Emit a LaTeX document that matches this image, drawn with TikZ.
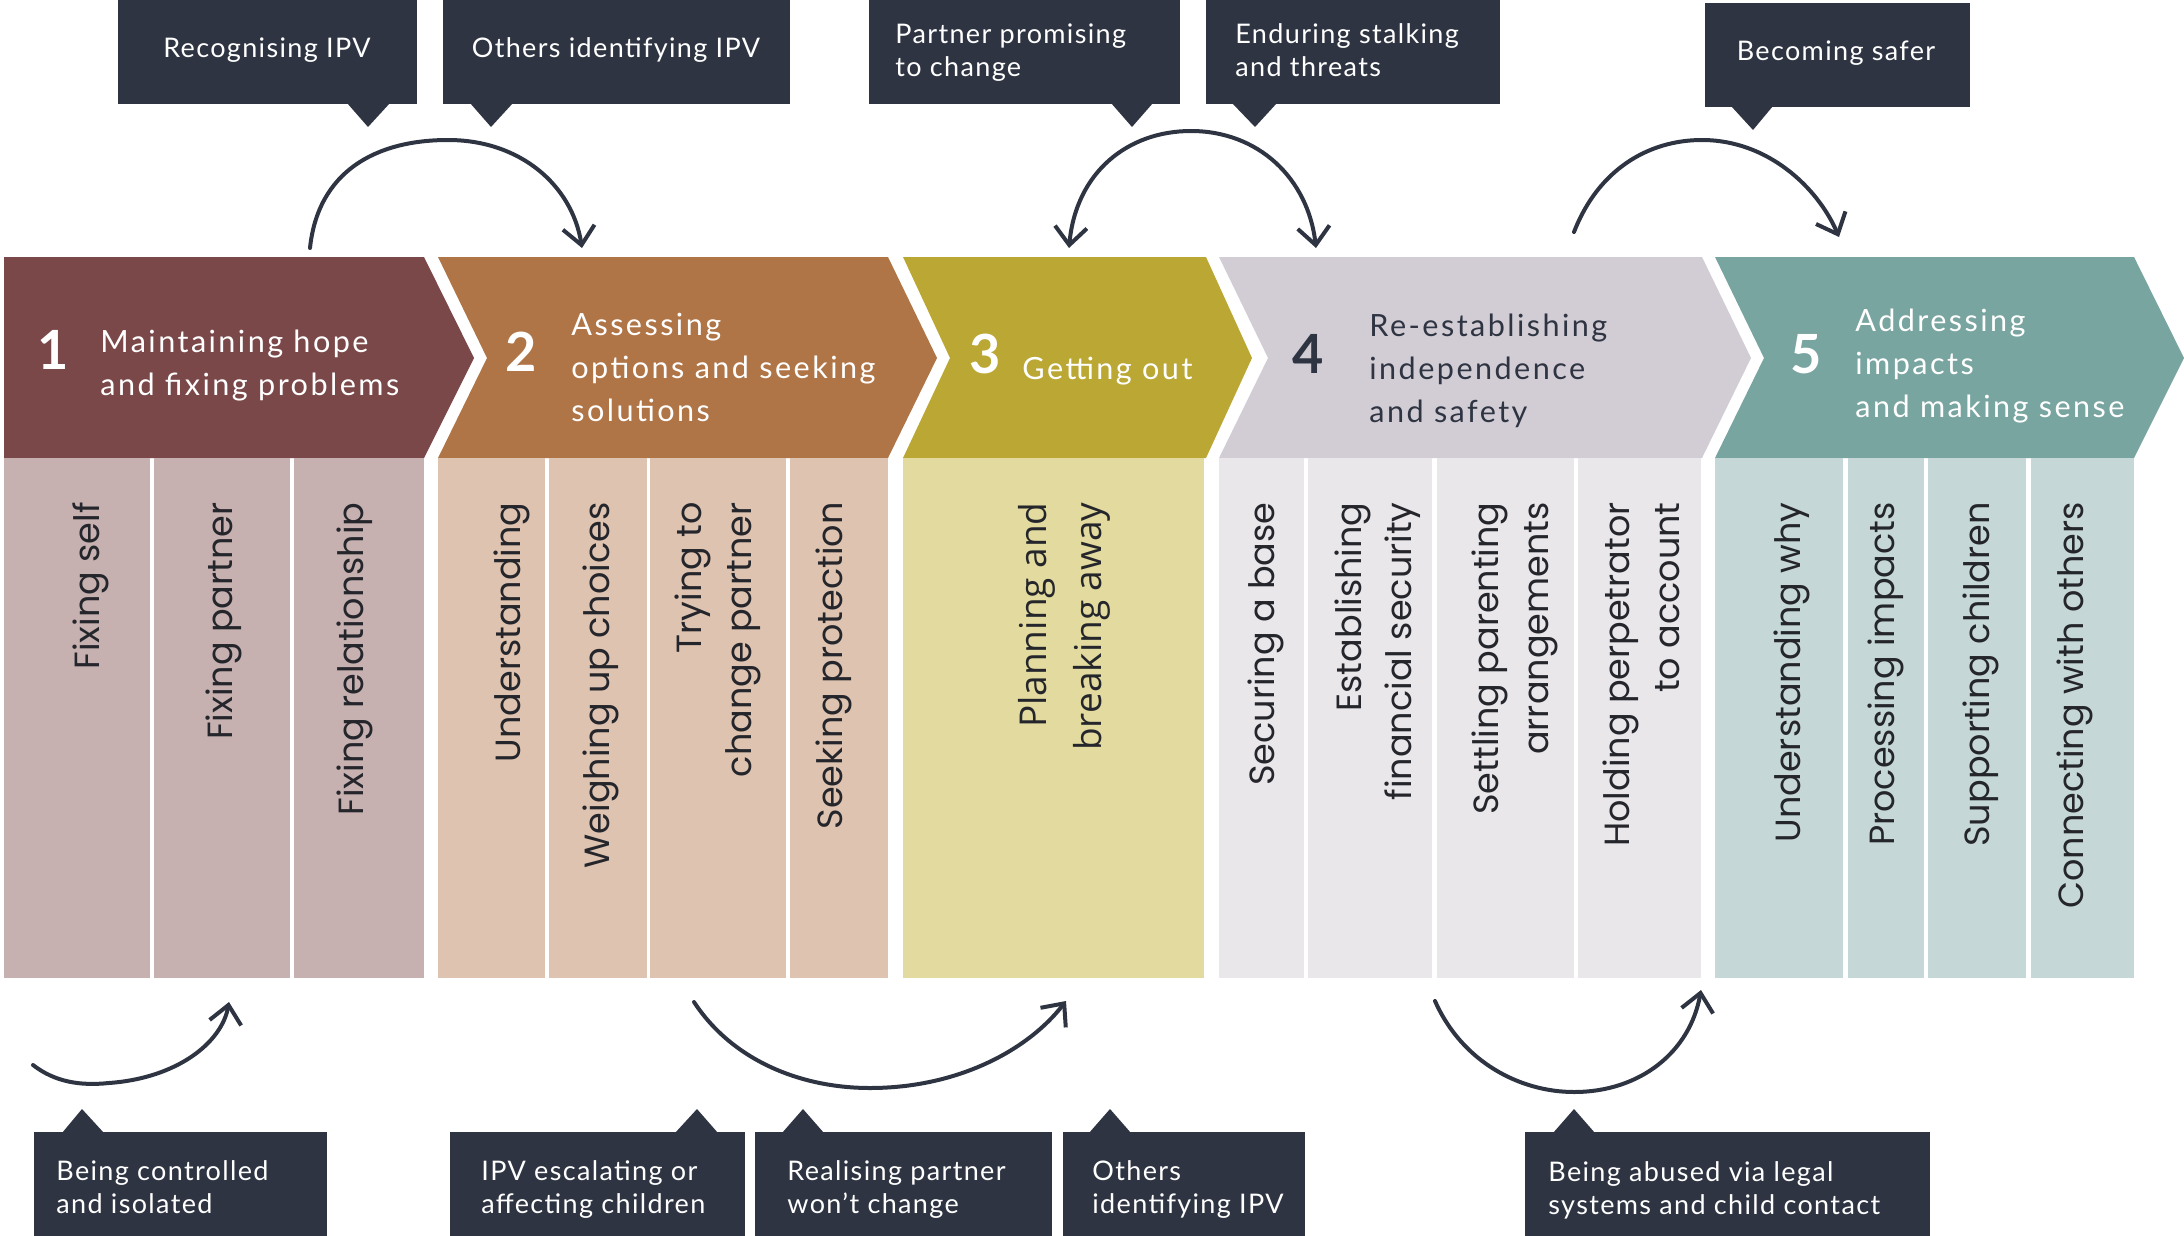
\documentclass[tikz,border=0pt]{standalone}
\usepackage{fontspec}
\setmainfont{Lato}
\newfontfamily\hdrfont[LetterSpace=8]{Lato}
\newfontfamily\calfont[LetterSpace=5]{Lato}
\newfontfamily\colfont{Poppins}
\newfontfamily\colfontb{Open Sans}
\usetikzlibrary{arrows.meta}
\definecolor{navy}{HTML}{2E3442}
\definecolor{cA}{HTML}{7B4849}\definecolor{lA}{HTML}{C6B0B0}
\definecolor{cB}{HTML}{B07547}\definecolor{lB}{HTML}{DEC3B0}
\definecolor{cC}{HTML}{BBA733}\definecolor{lC}{HTML}{E2DA9E}
\definecolor{cD}{HTML}{D2CDD5}\definecolor{lD}{HTML}{E9E7EA}
\definecolor{cE}{HTML}{79A5A1}\definecolor{lE}{HTML}{C5D8D7}
\definecolor{coltxt}{HTML}{25262C}
\tikzset{
  hdr/.style={anchor=west, align=left, inner sep=0pt, text=white,
    font=\hdrfont\fontsize{15.3}{21.5}\selectfont},
  hdrone/.style={hdr, text height=0.72em, text depth=0pt},
  num/.style={inner sep=0pt, text=white, text height=0.72em, text depth=0pt,
    font=\bfseries\fontsize{27}{30}\selectfont},
  coltext/.style={anchor=east, rotate=90, align=right, inner sep=0pt, text=coltxt,
    font=\colfont\fontsize{17.5}{25}\selectfont},
  colone/.style={coltext, text height=0.7em, text depth=0pt},
  ctext/.style={inner sep=0pt, text=white, text height=0.72em, text depth=0pt,
    font=\calfont\fontsize{13.5}{16.5}\selectfont},
  ctextl/.style={inner sep=0pt, text=white, anchor=west, align=left,
    font=\calfont\fontsize{13.5}{16.5}\selectfont},
  arr/.style={draw=navy, line width=2pt, line cap=round,
    -{Straight Barb[length=9pt,width=16pt,line width=2pt]}},
  arrboth/.style={draw=navy, line width=2pt, line cap=round,
    {Straight Barb[length=9pt,width=16pt,line width=2pt]}-{Straight Barb[length=9pt,width=16pt,line width=2pt]}},
}
\begin{document}
\begin{tikzpicture}[x=0.5pt,y=-0.5pt]
\path[use as bounding box] (0,0) rectangle (2184,1236);

% ---------- chevron headers ----------
\fill[cA] (4,257) -- (424,257) -- (474,358) -- (424,458) -- (4,458) -- cycle;
\fill[cB] (438,257) -- (888,257) -- (937,358) -- (888,458) -- (438,458) -- (487,358) -- cycle;
\fill[cC] (903,257) -- (1206,257) -- (1252,358) -- (1206,458) -- (903,458) -- (950,358) -- cycle;
\fill[cD] (1219,257) -- (1702,257) -- (1751,358) -- (1702,458) -- (1219,458) -- (1268,358) -- cycle;
\fill[cE] (1715,257) -- (2134,257) -- (2184,358) -- (2134,458) -- (1715,458) -- (1764,358) -- cycle;

% ---------- columns ----------
\fill[lA] (4,458) rectangle (150,978);
\fill[lA] (154,458) rectangle (290,978);
\fill[lA] (294,458) rectangle (424,978);
\fill[lB] (438,458) rectangle (545,978);
\fill[lB] (549,458) rectangle (647,978);
\fill[lB] (650,458) rectangle (786,978);
\fill[lB] (790,458) rectangle (888,978);
\fill[lC] (903,458) rectangle (1204,978);
\fill[lD] (1219,458) rectangle (1304,978);
\fill[lD] (1308,458) rectangle (1432,978);
\fill[lD] (1437,458) rectangle (1574,978);
\fill[lD] (1578,458) rectangle (1701,978);
\fill[lE] (1715,458) rectangle (1843,978);
\fill[lE] (1848,458) rectangle (1924,978);
\fill[lE] (1928,458) rectangle (2026,978);
\fill[lE] (2031,458) rectangle (2134,978);

% ---------- header texts ----------
\node[num] (n1) at (53,362) {1};
\node[hdr] (h1) at (100,366) {Maintaining hope\\and fixing problems};
\node[num] (n2) at (521,364) {2};
\node[hdr] (h2) at (571,367) {Assessing\\options and seeking\\solutions};
\node[num] (n3) at (985,366) {3};
\node[hdrone] (h3) at (1022,372) {Getting out};
\node[num, text=navy] (n4) at (1308,366) {4};
\node[hdr, text=navy] (h4) at (1369,371) {Re-establishing\\independence\\and safety};
\node[num] (n5) at (1806,366) {5};
\node[hdr] (h5) at (1855,366) {Addressing\\impacts\\and making sense};

% ---------- column texts ----------
\node[colone] (t11) at (92,502) {Fixing self};
\node[colone] (t12) at (225,502) {Fixing partner};
\node[colone] (t13) at (356,502) {Fixing relationship};
\node[colone] (t21) at (513,502) {Understanding};
\node[colone] (t22) at (602,502) {Weighing up choices};
\node[coltext] (t23) at (718,502) {Trying to\\change partner};
\node[colone] (t24) at (835,502) {Seeking protection};
\node[coltext, font=\colfontb\fontsize{18.5}{27.5}\selectfont] (t31) at (1064,502) {Planning and\\breaking away};
\node[colone] (t41) at (1267,502) {Securing a base};
\node[coltext] (t42) at (1378,502) {Establishing\\financial security};
\node[coltext] (t43) at (1515,502) {Settling parenting\\arrangements};
\node[coltext] (t44) at (1641,502) {Holding perpetrator\\to account};
\node[colone] (t51) at (1793,502) {Understanding why};
\node[colone] (t52) at (1887,502) {Processing impacts};
\node[colone] (t53) at (1982,502) {Supporting children};
\node[colone] (t54) at (2076,502) {Connecting with others};

% ---------- top callouts ----------
\fill[navy] (118,0) rectangle (417,104);
\fill[navy] (347,103) -- (368,127) -- (390,103) -- cycle;
\node[ctext] (kA) at (267,50) {Recognising IPV};

\fill[navy] (443,0) rectangle (790,104);
\fill[navy] (470,103) -- (491,127) -- (513,103) -- cycle;
\node[ctext] (kB) at (616,50) {Others identifying IPV};

\fill[navy] (869,0) rectangle (1180,104);
\fill[navy] (1111,103) -- (1132,127) -- (1153,103) -- cycle;
\node[ctextl] (kC) at (895,53) {Partner promising\\to change};

\fill[navy] (1206,0) rectangle (1500,104);
\fill[navy] (1232,103) -- (1255,127) -- (1277,103) -- cycle;
\node[ctextl] (kD) at (1235,50) {Enduring stalking\\and threats};

\fill[navy] (1705,3) rectangle (1970,107);
\fill[navy] (1731,106) -- (1753,130) -- (1773,106) -- cycle;
\node[ctext] (kE) at (1836,53) {Becoming safer};

% ---------- bottom callouts ----------
\fill[navy] (34,1132) rectangle (327,1236);
\fill[navy] (62,1133) -- (82,1109) -- (104,1133) -- cycle;
\node[ctextl] (kF) at (56,1187) {Being controlled\\and isolated};

\fill[navy] (450,1132) rectangle (745,1236);
\fill[navy] (675,1133) -- (697,1109) -- (718,1133) -- cycle;
\node[ctextl] (kG) at (481,1190) {IPV escalating or\\affecting children};

\fill[navy] (755,1132) rectangle (1052,1236);
\fill[navy] (782,1133) -- (803,1109) -- (824,1133) -- cycle;
\node[ctextl] (kH) at (787,1190) {Realising partner\\won’t change};

\fill[navy] (1063,1132) rectangle (1305,1236);
\fill[navy] (1089,1133) -- (1110,1109) -- (1131,1133) -- cycle;
\node[ctextl] (kI) at (1092,1190) {Others\\identifying IPV};

\fill[navy] (1525,1132) rectangle (1930,1236);
\fill[navy] (1553,1133) -- (1574,1109) -- (1595,1133) -- cycle;
\node[ctextl] (kJ) at (1548,1190) {Being abused via legal\\systems and child contact};

% ---------- arrows ----------
\coordinate (a1s) at (310,248); \coordinate (a1e) at (582,248);
\draw[arr] (a1s) .. controls (318,172) and (375,140) .. (448,140) .. controls (520,140) and (572,185) .. (a1e);
\coordinate (a2s) at (1069,248); \coordinate (a2e) at (1316,248);
\draw[arrboth] (a2s) .. controls (1076,172) and (1128,131) .. (1191,131) .. controls (1258,131) and (1308,178) .. (a2e);
\coordinate (a3s) at (1574,232); \coordinate (a3e) at (1839,237);
\draw[arr] (a3s) .. controls (1598,170) and (1648,140) .. (1702,140) .. controls (1768,140) and (1818,188) .. (a3e);
\coordinate (b1s) at (33,1065); \coordinate (b1e) at (229,1002);
\draw[arr] (b1s) .. controls (55,1082) and (80,1086) .. (109,1083) .. controls (178,1078) and (222,1042) .. (b1e);
\coordinate (b2s) at (694,1002); \coordinate (b2e) at (1066,1001);
\draw[arr] (b2s) .. controls (732,1060) and (800,1088) .. (870,1088) .. controls (958,1088) and (1028,1050) .. (b2e);
\coordinate (b3s) at (1435,1001); \coordinate (b3e) at (1701,990);
\draw[arr] (b3s) .. controls (1462,1062) and (1520,1092) .. (1574,1092) .. controls (1640,1092) and (1690,1052) .. (b3e);
\end{tikzpicture}
\end{document}
